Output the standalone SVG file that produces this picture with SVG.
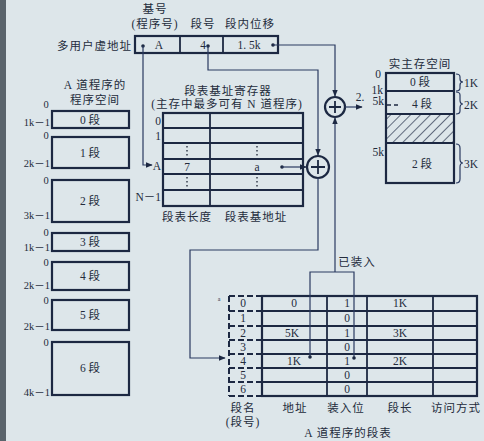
<svg xmlns="http://www.w3.org/2000/svg" width="484" height="441" viewBox="0 0 484 441">
<defs>
<style>
text{font-family:"Liberation Serif","Noto Sans CJK SC",serif;fill:#242c3c;font-size:11.5px;text-anchor:middle}
.zh{letter-spacing:1px}
.l{text-anchor:end}
.sm{font-size:10.5px}
.tiny{font-size:6px}
.box{fill:none;stroke:#1c2842;stroke-width:2.2}
.ln{stroke:#1c2842;stroke-width:1.8;fill:none}
.cn{stroke:#2a3a60;stroke-width:1.2;fill:none}
.dot{fill:#1c2842}
.dash{stroke:#1c2842;stroke-width:2;fill:none;stroke-dasharray:6,3}
.dotted{stroke:#2a3242;stroke-width:1.4;stroke-dasharray:1.5,2.5;fill:none}
</style>
<marker id="ar" viewBox="0 0 10 10" refX="9" refY="5" markerWidth="7" markerHeight="7" orient="auto" markerUnits="userSpaceOnUse">
<path d="M0,1 L10,5 L0,9 Z" fill="#1c2842"/>
</marker>
<pattern id="hatch" patternUnits="userSpaceOnUse" width="7" height="7" patternTransform="rotate(45)">
<line x1="0" y1="0" x2="0" y2="7" stroke="#1c2842" stroke-width="1.3"/>
</pattern>
</defs>
<rect width="484" height="441" fill="#dde6ea"/>
<rect x="0" y="0" width="6" height="441" fill="#5a646c"/>

<g id="virtual-address">
<text x="155" y="13" class="zh">基号</text>
<text x="155" y="28" class="zh">(程序号)</text>
<text x="203" y="28" class="zh">段号</text>
<text x="250" y="28" class="zh">段内位移</text>
<text x="132" y="50" class="zh l">多用户虚地址</text>
<rect x="135" y="36" width="143" height="17" class="box"/>
<line x1="180" y1="36" x2="180" y2="53" class="ln"/>
<line x1="223" y1="36" x2="223" y2="53" class="ln"/>
<text x="159" y="49">A</text>
<text x="203" y="49">4</text>
<text x="249" y="49">1. 5k</text>
<circle cx="143" cy="46" r="1.8" class="dot"/>
<circle cx="208" cy="46" r="1.8" class="dot"/>
<circle cx="273" cy="45" r="1.8" class="dot"/>
</g>

<g id="program-space">
<text x="95" y="89" class="zh">A 道程序的</text>
<text x="95" y="104" class="zh">程序空间</text>
<rect x="52" y="111" width="77" height="17" class="box"/><text x="90" y="124">0 段</text>
<rect x="52" y="137" width="77" height="31" class="box"/><text x="90" y="157">1 段</text>
<rect x="52" y="180" width="77" height="42" class="box"/><text x="90" y="205">2 段</text>
<rect x="52" y="233" width="77" height="18" class="box"/><text x="90" y="246">3 段</text>
<rect x="52" y="262" width="77" height="28" class="box"/><text x="90" y="280">4 段</text>
<rect x="52" y="300" width="77" height="30" class="box"/><text x="90" y="319">5 段</text>
<rect x="52" y="342" width="77" height="53" class="box"/><text x="90" y="372">6 段</text>
<text x="46" y="108" class="sm">0</text><text x="50" y="126" class="l sm">1k－1</text>
<text x="46" y="139" class="sm">0</text><text x="50" y="167" class="l sm">2k－1</text>
<text x="46" y="184" class="sm">0</text><text x="50" y="219" class="l sm">3k－1</text>
<text x="46" y="236" class="sm">0</text><text x="50" y="251" class="l sm">1k－1</text>
<text x="46" y="266" class="sm">0</text><text x="50" y="289" class="l sm">2k－1</text>
<text x="46" y="304" class="sm">0</text><text x="50" y="330" class="l sm">2k－1</text>
<text x="46" y="346" class="sm">0</text><text x="50" y="396" class="l sm">4k－1</text>
</g>

<g id="seg-table-register">
<text x="228" y="95" class="zh">段表基址寄存器</text>
<text x="227" y="108" class="zh">(主存中最多可有 N 道程序)</text>
<rect x="163" y="113" width="140" height="93" class="box"/>
<line x1="210" y1="113" x2="210" y2="206" class="ln"/>
<line x1="163" y1="128" x2="303" y2="128" class="ln"/>
<line x1="163" y1="143" x2="303" y2="143" class="ln"/>
<line x1="163" y1="159" x2="303" y2="159" class="ln"/>
<line x1="163" y1="174" x2="303" y2="174" class="ln"/>
<line x1="163" y1="190" x2="303" y2="190" class="ln"/>
<line x1="187" y1="146" x2="187" y2="157" class="dotted"/>
<line x1="257" y1="146" x2="257" y2="157" class="dotted"/>
<line x1="187" y1="177" x2="187" y2="188" class="dotted"/>
<line x1="257" y1="177" x2="257" y2="188" class="dotted"/>
<text x="187" y="171">7</text>
<text x="257" y="171">a</text>
<circle cx="282" cy="167" r="1.8" class="dot"/>
<text x="158" y="125">0</text>
<text x="158" y="140">1</text>
<text x="157" y="170">A</text>
<text x="161" y="201" class="l">N－1</text>
<text x="187" y="221" class="zh">段表长度</text>
<text x="256" y="221" class="zh">段表基地址</text>
</g>

<g id="adder-upper">
<circle cx="335" cy="107" r="10" fill="none" stroke="#1c2842" stroke-width="2.2"/>
<path d="M329,107 H341 M335,101 V113" class="ln" stroke-width="1.5"/>
</g>
<g id="adder-lower">
<circle cx="318" cy="167" r="11" fill="none" stroke="#1c2842" stroke-width="2.2"/>
<path d="M311,167 H325 M318,160 V174" class="ln" stroke-width="1.5"/>
</g>

<g id="main-memory">
<text x="420" y="68" class="zh">实主存空间</text>
<rect x="386" y="114" width="68" height="29" fill="url(#hatch)"/>
<rect x="386" y="73" width="68" height="110" class="box"/>
<line x1="386" y1="91" x2="454" y2="91" class="ln"/>
<line x1="386" y1="114" x2="454" y2="114" class="ln"/>
<line x1="386" y1="143" x2="454" y2="143" class="ln"/>
<text x="420" y="86">0 段</text>
<text x="422" y="108">4 段</text>
<text x="422" y="168">2 段</text>
<text x="381" y="78" class="l">0</text>
<text x="383" y="94" class="l">1k</text>
<text x="360" y="101">2.</text>
<text x="384" y="105" class="l">5k</text>
<line x1="387" y1="105" x2="401" y2="105" stroke="#1c2842" stroke-width="1.6" stroke-dasharray="4,3"/>
<text x="384" y="156" class="l">5k</text>
<path d="M456,74 Q460,74 460,77 V79 Q460,82 463,82 Q460,82 460,85 V88 Q460,91 456,91" class="cn"/>
<path d="M456,92 Q460,92 460,95 V100 Q460,104 463,104 Q460,104 460,108 V111 Q460,114 456,114" class="cn"/>
<path d="M456,144 Q460,144 460,148 V159 Q460,163 463,163 Q460,163 460,167 V179 Q460,183 456,183" class="cn"/>
<text x="471" y="87">1K</text>
<text x="471" y="109">2K</text>
<text x="471" y="168">3K</text>
</g>

<g id="segment-table">
<text x="219" y="301" class="tiny">a</text>
<line x1="229" y1="296" x2="229" y2="396" class="dash"/>
<line x1="229" y1="296" x2="262" y2="296" class="dash"/>
<line x1="229" y1="311" x2="262" y2="311" class="dash"/>
<line x1="229" y1="326" x2="262" y2="326" class="dash"/>
<line x1="229" y1="340" x2="262" y2="340" class="dash"/>
<line x1="229" y1="354" x2="262" y2="354" class="dash"/>
<line x1="229" y1="368" x2="262" y2="368" class="dash"/>
<line x1="229" y1="382" x2="262" y2="382" class="dash"/>
<line x1="229" y1="396" x2="262" y2="396" class="dash"/>
<rect x="262" y="296" width="215" height="100" class="box"/>
<line x1="327" y1="296" x2="327" y2="396" class="ln" stroke-width="2.2"/>
<line x1="367" y1="296" x2="367" y2="396" class="ln" stroke-width="2.2"/>
<line x1="433" y1="296" x2="433" y2="396" class="ln" stroke-width="2.2"/>
<line x1="262" y1="311" x2="477" y2="311" class="ln"/>
<line x1="262" y1="326" x2="477" y2="326" class="ln"/>
<line x1="262" y1="340" x2="477" y2="340" class="ln"/>
<line x1="262" y1="354" x2="477" y2="354" class="ln"/>
<line x1="262" y1="368" x2="477" y2="368" class="ln"/>
<line x1="262" y1="382" x2="477" y2="382" class="ln"/>
<text x="243" y="307">0</text>
<text x="243" y="322">1</text>
<text x="243" y="337">2</text>
<text x="243" y="351">3</text>
<text x="243" y="365">4</text>
<text x="243" y="379">5</text>
<text x="243" y="393">6</text>
<text x="294" y="307">0</text><text x="347" y="307">1</text><text x="400" y="307">1K</text>
<text x="347" y="322">0</text>
<text x="292" y="337">5K</text><text x="347" y="337">1</text><text x="400" y="337">3K</text>
<text x="347" y="351">0</text>
<text x="294" y="365">1K</text><text x="347" y="365">1</text><text x="400" y="365">2K</text>
<text x="347" y="379">0</text>
<text x="347" y="393">0</text>
<text x="243" y="412" class="zh">段名</text>
<text x="243" y="426" class="zh">(段号)</text>
<text x="295" y="412" class="zh">地址</text>
<text x="346" y="412" class="zh">装入位</text>
<text x="400" y="412" class="zh">段长</text>
<text x="456" y="412" class="zh">访问方式</text>
<text x="348" y="437" class="zh">A 道程序的段表</text>
</g>

<g id="connectors">
<path d="M143,46 V165 H152" class="cn" marker-end="url(#ar)"/>
<path d="M208,46 V70 H318 V155" class="cn" marker-end="url(#ar)"/>
<path d="M273,45 H335 V96" class="cn" marker-end="url(#ar)"/>
<path d="M282,167 H306" class="cn" marker-end="url(#ar)"/>
<path d="M318,178 V250 H190 V358 H225" class="cn" marker-end="url(#ar)"/>
<path d="M310,357 V272 H354 V358" class="cn"/>
<circle cx="310" cy="357" r="1.8" class="dot"/>
<circle cx="354" cy="358" r="1.8" class="dot"/>
<path d="M335,272 V118" class="cn" marker-end="url(#ar)"/>
<text x="357" y="266" class="zh">已装入</text>
<path d="M345,107 H362" class="cn" marker-end="url(#ar)"/>
</g>
</svg>
